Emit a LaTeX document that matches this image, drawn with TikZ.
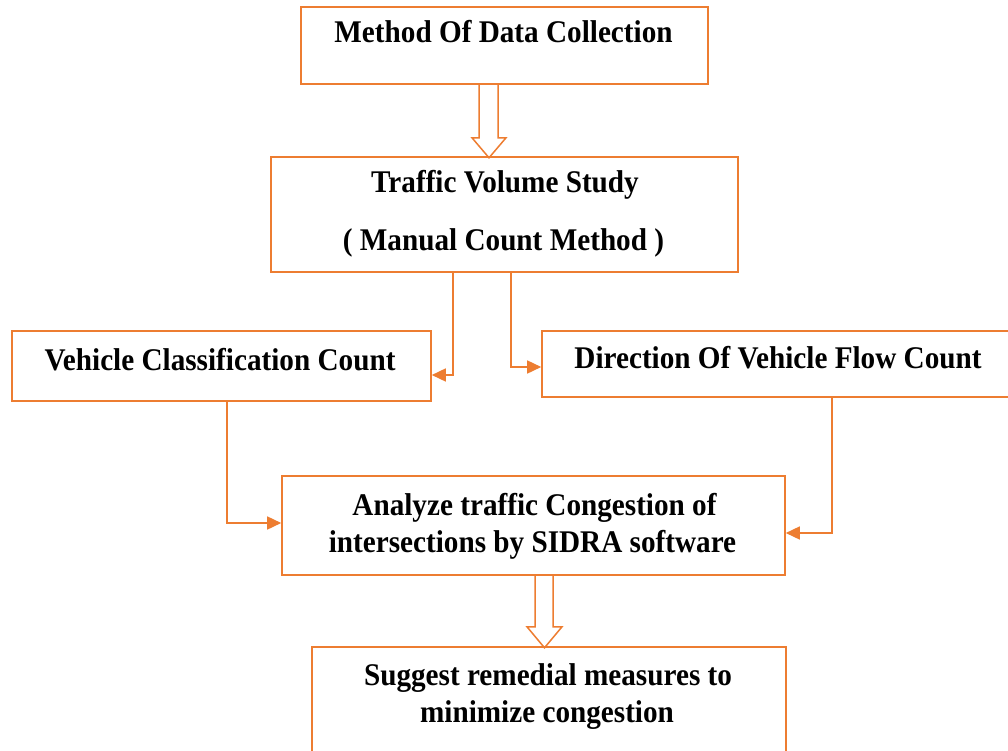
\documentclass[tikz,border=0pt]{standalone}
\usepackage{fontspec}
\setmainfont{Liberation Serif}
\usetikzlibrary{arrows.meta, calc, positioning}
\definecolor{floworange}{RGB}{237,125,49}

\tikzset{
  box/.style = {draw=floworange, line width=1.6pt, rectangle, inner sep=0pt},
  caption/.style = {font=\fontsize{29.2}{35}\selectfont\bfseries, anchor=base, inner sep=0pt, yscale=1.08},
  link/.style = {draw=floworange, line width=1.6pt, -{Triangle[length=14pt,width=13pt]}},
  hollow/.style = {draw=floworange, line width=1.5pt, line join=miter}
}

\begin{document}
\begin{tikzpicture}[x=1pt, y=-1pt]
  \useasboundingbox (0,0) rectangle (1008,751);

  % boxes
  \node[box, minimum width=407pt, minimum height=77pt] (method) at (504.5,45.5) {};
  \node[box, minimum width=467pt, minimum height=115pt] (traffic) at (504.5,214.5) {};
  \node[box, minimum width=419pt, minimum height=70pt] (vcc) at (221.5,366) {};
  \node[box, minimum width=488pt, minimum height=66pt] (dir) at (786,364) {};
  \node[box, minimum width=503pt, minimum height=99pt] (sidra) at (533.5,525.5) {};
  \node[box, minimum width=474pt, minimum height=143pt] (remedy) at (549,718.5) {};

  % texts
  \node[caption] (methodtxt) at (503.5,43) {Method Of Data Collection};
  \node[caption] (traffictxt) at (505,193) {Traffic Volume Study};
  \node[caption] (manualtxt) at (503.5,250) {( Manual Count Method )};
  \node[caption] (vcctxt) at (220,370) {Vehicle Classification Count};
  \node[caption] (dirtxt) at (778,368) {Direction Of Vehicle Flow Count};
  \node[caption] (sidratxt) at (534.5,515) {Analyze traffic Congestion of};
  \node[caption] (sidratxtb) at (532.5,552) {intersections by SIDRA software};
  \node[caption] (remedytxt) at (548,685) {Suggest remedial measures to};
  \node[caption] (remedytxtb) at (547,722) {minimize congestion};

  % hollow arrows
  \draw[hollow] ($(method.south)+(-25.5,0)$) -- ++(0,53) -- ++(-7,0) -- ++(17,20)
    -- ++(17,-20) -- ++(-8,0) -- ++(0,-53);
  \draw[hollow] ($(sidra.south)+(1.5,0)$) -- ++(0,51) -- ++(-8,0) -- ++(17.5,21)
    -- ++(17.5,-21) -- ++(-9,0) -- ++(0,-51);

  % connectors
  \draw[link] ([xshift=-51.5pt]traffic.south) |- ([yshift=-9pt]vcc.east);
  \draw[link] ([xshift=6.5pt]traffic.south) |- ([yshift=-3pt]dir.west);
  \draw[link] ([xshift=5.5pt]vcc.south) |- ([yshift=2.5pt]sidra.west);
  \draw[link] ([xshift=46pt]dir.south) |- ([yshift=-7.5pt]sidra.east);
\end{tikzpicture}
\end{document}
